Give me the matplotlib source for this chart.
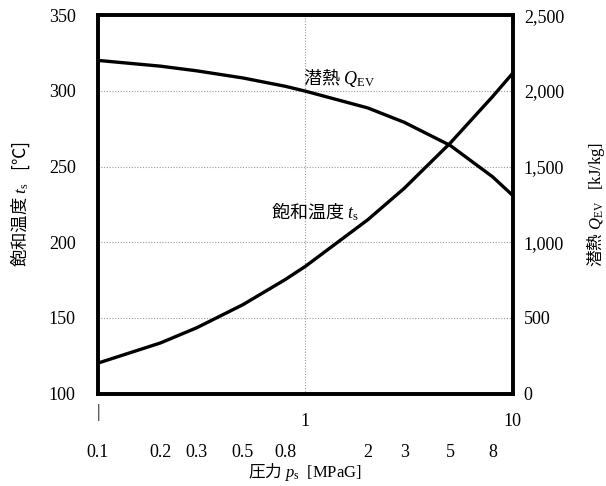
import matplotlib
matplotlib.use("Agg")
import matplotlib.pyplot as plt
from matplotlib import ticker
import matplotlib.transforms as mtransforms

# gauge pressure [MPaG], saturation temperature [C], latent heat [kJ/kg]
pressure = [0.1, 0.2, 0.3, 0.5, 0.8, 1.0, 2.0, 3.0, 5.0, 8.0, 10.0]
sat_temp = [120.2, 133.5, 143.6, 158.8, 175.4, 184.1, 214.9, 235.7, 265.6, 296.3, 311.7]
latent_heat = [2202, 2164, 2133, 2086, 2031, 1999, 1888, 1793, 1640, 1433, 1310]

major_x = [1, 10]
minor_x = [0.1, 0.2, 0.3, 0.5, 0.8, 2, 3, 5, 8]
left_ticks = [100, 150, 200, 250, 300, 350]
right_ticks = [0, 500, 1000, 1500, 2000, 2500]

plt.rcParams['font.family'] = ['Liberation Serif', 'Noto Sans CJK JP']
# mathtext: japanese in rm, latin symbols in serif
plt.rcParams['mathtext.fontset'] = 'custom'
plt.rcParams['mathtext.rm'] = 'Noto Sans CJK JP'
plt.rcParams['mathtext.it'] = 'Liberation Serif:italic'
plt.rcParams['mathtext.sf'] = 'Liberation Serif'
plt.rcParams['mathtext.bf'] = 'Liberation Serif:bold'

fig = plt.figure(figsize=(6.06, 4.86), dpi=100)
ax = fig.add_axes([0.1617, 0.19, 0.6843, 0.7785])
ax2 = ax.twinx()

ax.plot(pressure, sat_temp, color='black', lw=2.4, solid_joinstyle='round')
ax2.plot(pressure, latent_heat, color='black', lw=2.4, solid_joinstyle='round')

ax.set_xscale('log')
ax.set_xlim(0.1, 10)
ax.set_ylim(100, 350)
ax2.set_ylim(0, 2500)

ax.xaxis.set_major_locator(ticker.FixedLocator(major_x))
ax.xaxis.set_major_formatter(ticker.FixedFormatter([str(v) for v in major_x]))
ax.xaxis.set_minor_locator(ticker.FixedLocator(minor_x))
ax.xaxis.set_minor_formatter(ticker.FixedFormatter([f"{v:g}" for v in minor_x]))
ax.tick_params(axis='x', which='major', length=0, pad=14, labelsize=13)
ax.tick_params(axis='x', which='minor', length=0, pad=36, labelsize=13)

ax.set_yticks(left_ticks)
ax.tick_params(axis='y', length=0, pad=16, labelsize=13)
ax2.set_yticks(right_ticks)
ax2.yaxis.set_major_formatter(ticker.FuncFormatter(lambda x, p: format(int(x), ',')))
ax2.tick_params(axis='y', length=0, pad=8, labelsize=13)

ax.grid(True, axis='y', linestyle=(0, (1, 1.5)), color='#999999', lw=0.8)
ax.grid(True, axis='x', which='major', linestyle=(0, (1, 1.5)), color='#999999', lw=0.8)

for a in (ax, ax2):
    for s in a.spines.values():
        s.set_linewidth(2.6)

# small bar under the left end of the upper tick row
trans = mtransforms.blended_transform_factory(ax.transData, ax.transAxes)
ax.text(0.1, -0.05, "|", transform=trans, ha='center', va='center', fontsize=13)

ax.text(0.975, 308.6, r"$\mathrm{潜熱}\ Q_{\mathsf{EV}}$", fontsize=13, va='center', ha='left')
ax.text(0.683, 220, r"$\mathrm{飽和温度}\ t_{\mathsf{s}}$", fontsize=13, va='center', ha='left')

ax.set_xlabel(r"$\mathrm{圧力}\ p_{\mathsf{s}}\ \ \mathsf{[MPaG]}$", fontsize=12)
ax.xaxis.set_label_coords(0.5, -0.178)
ax.set_ylabel(r"$\mathrm{飽和温度}\ t_{\mathsf{s}}\ \ \ \mathrm{[℃]}$", fontsize=12.5, labelpad=12)
ax2.set_ylabel(r"$\mathrm{潜熱}\ Q_{\mathsf{EV}}\ \ \ \mathsf{[kJ/kg]}$", fontsize=12, rotation=90, labelpad=14)

fig.savefig("out.png", dpi=100)
